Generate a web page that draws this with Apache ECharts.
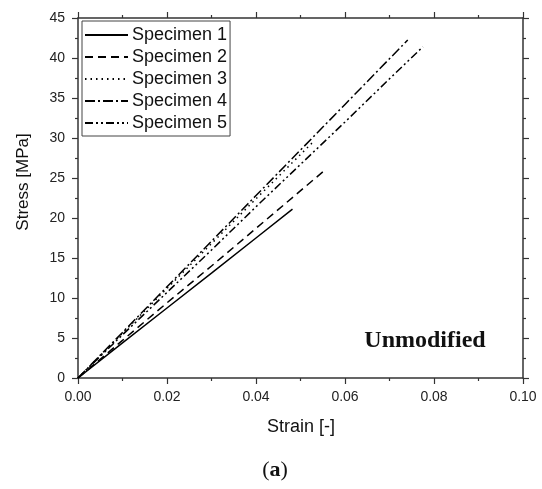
<!DOCTYPE html>
<html>
<head>
<meta charset="utf-8">
<script src="https://cdn.jsdelivr.net/npm/echarts@6.0.0/dist/echarts.min.js"></script>
<style>
  html, body { margin: 0; padding: 0; background: #fff; }
  #root { width: 542px; height: 489px; }
</style>
</head>
<body>
<div id="root"></div>
<script>
  // values: [strain, stress MPa]
  const seriesNames = ['Specimen 1', 'Specimen 2', 'Specimen 3', 'Specimen 4', 'Specimen 5'];
  const specimen1 = [[0, 0], [0.01, 4.4], [0.02, 8.75], [0.03, 13.1], [0.04, 17.5], [0.0482, 21.1]];
  const specimen2 = [[0, 0], [0.01, 4.7], [0.02, 9.4], [0.03, 14.0], [0.04, 18.7], [0.0553, 25.9]];
  const specimen3 = [[0, 0], [0.01, 5.6], [0.02, 11.2], [0.03, 16.8], [0.04, 22.4], [0.053, 29.6]];
  const specimen4 = [[0, 0], [0.01, 5.7], [0.02, 11.4], [0.03, 17.1], [0.04, 22.8], [0.05, 28.5], [0.06, 34.2], [0.0741, 42.25]];
  const specimen5 = [[0, 0], [0.01, 5.4], [0.02, 10.7], [0.03, 16.0], [0.04, 21.4], [0.05, 26.7], [0.06, 32.0], [0.07, 37.4], [0.0775, 41.4]];
  const xTicks = [0, 0.02, 0.04, 0.06, 0.08, 0.10];
  const yTicks = [0, 5, 10, 15, 20, 25, 30, 35, 40, 45];

  const allData = [specimen1, specimen2, specimen3, specimen4, specimen5];
  const dashes = ['solid', [8, 5], [1.5, 4], [10, 3, 2, 3], [8, 3, 2, 3, 2, 3]];

  const font = '"Liberation Sans", Arial, sans-serif';
  const serif = '"Liberation Serif", "Times New Roman", serif';
  const axisColor = '#333';

  const chart = echarts.init(document.getElementById('root'));

  function frameAxis(extra) {
    return Object.assign({
      type: 'value',
      axisLine: { show: true, onZero: false, lineStyle: { color: axisColor, width: 1.5 } },
      axisTick: { show: true, inside: false, length: 6, lineStyle: { color: axisColor, width: 1.2 } },
      minorTick: { show: true, splitNumber: 2, length: 3, lineStyle: { color: axisColor, width: 1.2 } },
      splitLine: { show: false },
      axisLabel: { show: false }
    }, extra);
  }

  const option = {
    animation: false,
    backgroundColor: '#fff',
    grid: { left: 78, right: 19, top: 18, bottom: 111, containLabel: false },
    legend: {
      orient: 'vertical',
      left: 82,
      top: 21,
      data: seriesNames,
      itemWidth: 43,
      itemHeight: 2,
      itemGap: 4,
      padding: [5, 3, 4, 2],
      borderColor: '#444',
      borderWidth: 1,
      itemStyle: { opacity: 0 },
      textStyle: { fontFamily: font, fontSize: 18, lineHeight: 18, color: '#111', padding: [0, 0, 0, -1] }
    },
    xAxis: [
      frameAxis({
        position: 'bottom',
        min: xTicks[0],
        max: xTicks[xTicks.length - 1],
        interval: 0.02,
        axisLabel: {
          show: true, margin: 12, fontFamily: font, fontSize: 14, color: '#222',
          formatter: v => v.toFixed(2)
        }
      }),
      frameAxis({ position: 'top', min: 0, max: 0.1, interval: 0.02 })
    ],
    yAxis: [
      frameAxis({
        position: 'left',
        min: yTicks[0],
        max: yTicks[yTicks.length - 1],
        interval: 5,
        axisLabel: { show: true, margin: 13, fontFamily: font, fontSize: 14, color: '#222' }
      }),
      frameAxis({ position: 'right', min: 0, max: 45, interval: 5 })
    ],
    graphic: [
      {
        type: 'text', x: 23, y: 182, rotation: Math.PI / 2,
        style: { text: 'Stress [MPa]', fontFamily: font, fontSize: 17, fill: '#111', align: 'center', verticalAlign: 'middle' }
      },
      {
        type: 'text', x: 301, y: 427,
        style: { text: 'Strain [-]', fontFamily: font, fontSize: 18, fill: '#111', align: 'center', verticalAlign: 'middle' }
      },
      {
        type: 'text', x: 425, y: 341,
        style: { text: 'Unmodified', fontFamily: serif, fontWeight: 'bold', fontSize: 24, fill: '#111', align: 'center', verticalAlign: 'middle' }
      },
      {
        type: 'text', x: 275, y: 470,
        style: {
          text: '({b|a})', fontFamily: serif, fontSize: 22, fill: '#111', align: 'center', verticalAlign: 'middle',
          rich: { b: { fontFamily: serif, fontWeight: 'bold', fontSize: 22, fill: '#111' } }
        }
      }
    ],
    series: allData.map((d, i) => ({
      name: seriesNames[i],
      type: 'line',
      data: d,
      symbol: 'none',
      smooth: false,
      lineStyle: { color: '#000', width: 1.5, type: dashes[i] },
      itemStyle: { color: '#000' }
    }))
  };

  chart.setOption(option);
</script>
</body>
</html>
